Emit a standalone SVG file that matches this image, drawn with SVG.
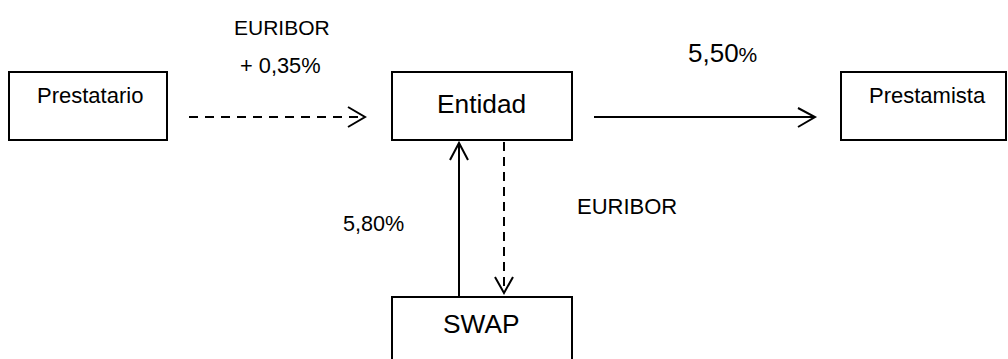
<svg xmlns="http://www.w3.org/2000/svg" width="1008" height="359" viewBox="0 0 1008 359">
<defs>
<style>
.box{fill:#fff;stroke:#000;stroke-width:2}
.t{font-family:"Liberation Sans",Arial,sans-serif;fill:#000}
.ln{fill:none;stroke:#000;stroke-width:2}
.dash{stroke-dasharray:9 7}
.vdash{stroke-dasharray:9 6}
</style>
</defs>
<rect width="1008" height="359" fill="#fff"/>
<g id="connectors">
<path class="ln dash" d="M189,117 H362"/>
<path class="ln" d="M348,107 L365,117 L348,127"/>
<path class="ln" d="M594,117 H813"/>
<path class="ln" d="M798,108 L815,117 L798,127"/>
<path class="ln" d="M459,297 V143"/>
<path class="ln" d="M450,160 L459,143 L468,160"/>
<path class="ln vdash" d="M504,142 V291"/>
<path class="ln" d="M495,277 L504,293 L513,277"/>
</g>
<g id="prestatario">
<rect class="box" x="9" y="72" width="158" height="68"/>
<text class="t" x="37" y="103" font-size="22">Prestatario</text>
</g>
<g id="entidad">
<rect class="box" x="392" y="72" width="180" height="68"/>
<text class="t" x="437" y="113" font-size="26.3">Entidad</text>
</g>
<g id="prestamista">
<rect class="box" x="841" y="72" width="165" height="68"/>
<text class="t" x="869" y="103" font-size="22">Prestamista</text>
</g>
<g id="swap">
<rect class="box" x="392" y="297" width="180" height="70"/>
<text class="t" x="443" y="333" font-size="26.3">SWAP</text>
</g>
<g id="labels">
<text class="t" x="234" y="35" font-size="21">EURIBOR</text>
<text class="t" x="240" y="73" font-size="21.8">+ 0,35%</text>
<text class="t" x="688" y="62" font-size="26">5,50<tspan font-size="21">%</tspan></text>
<text class="t" x="577" y="214" font-size="22">EURIBOR</text>
<text class="t" x="343" y="231" font-size="21.6">5,80%</text>
</g>
</svg>
